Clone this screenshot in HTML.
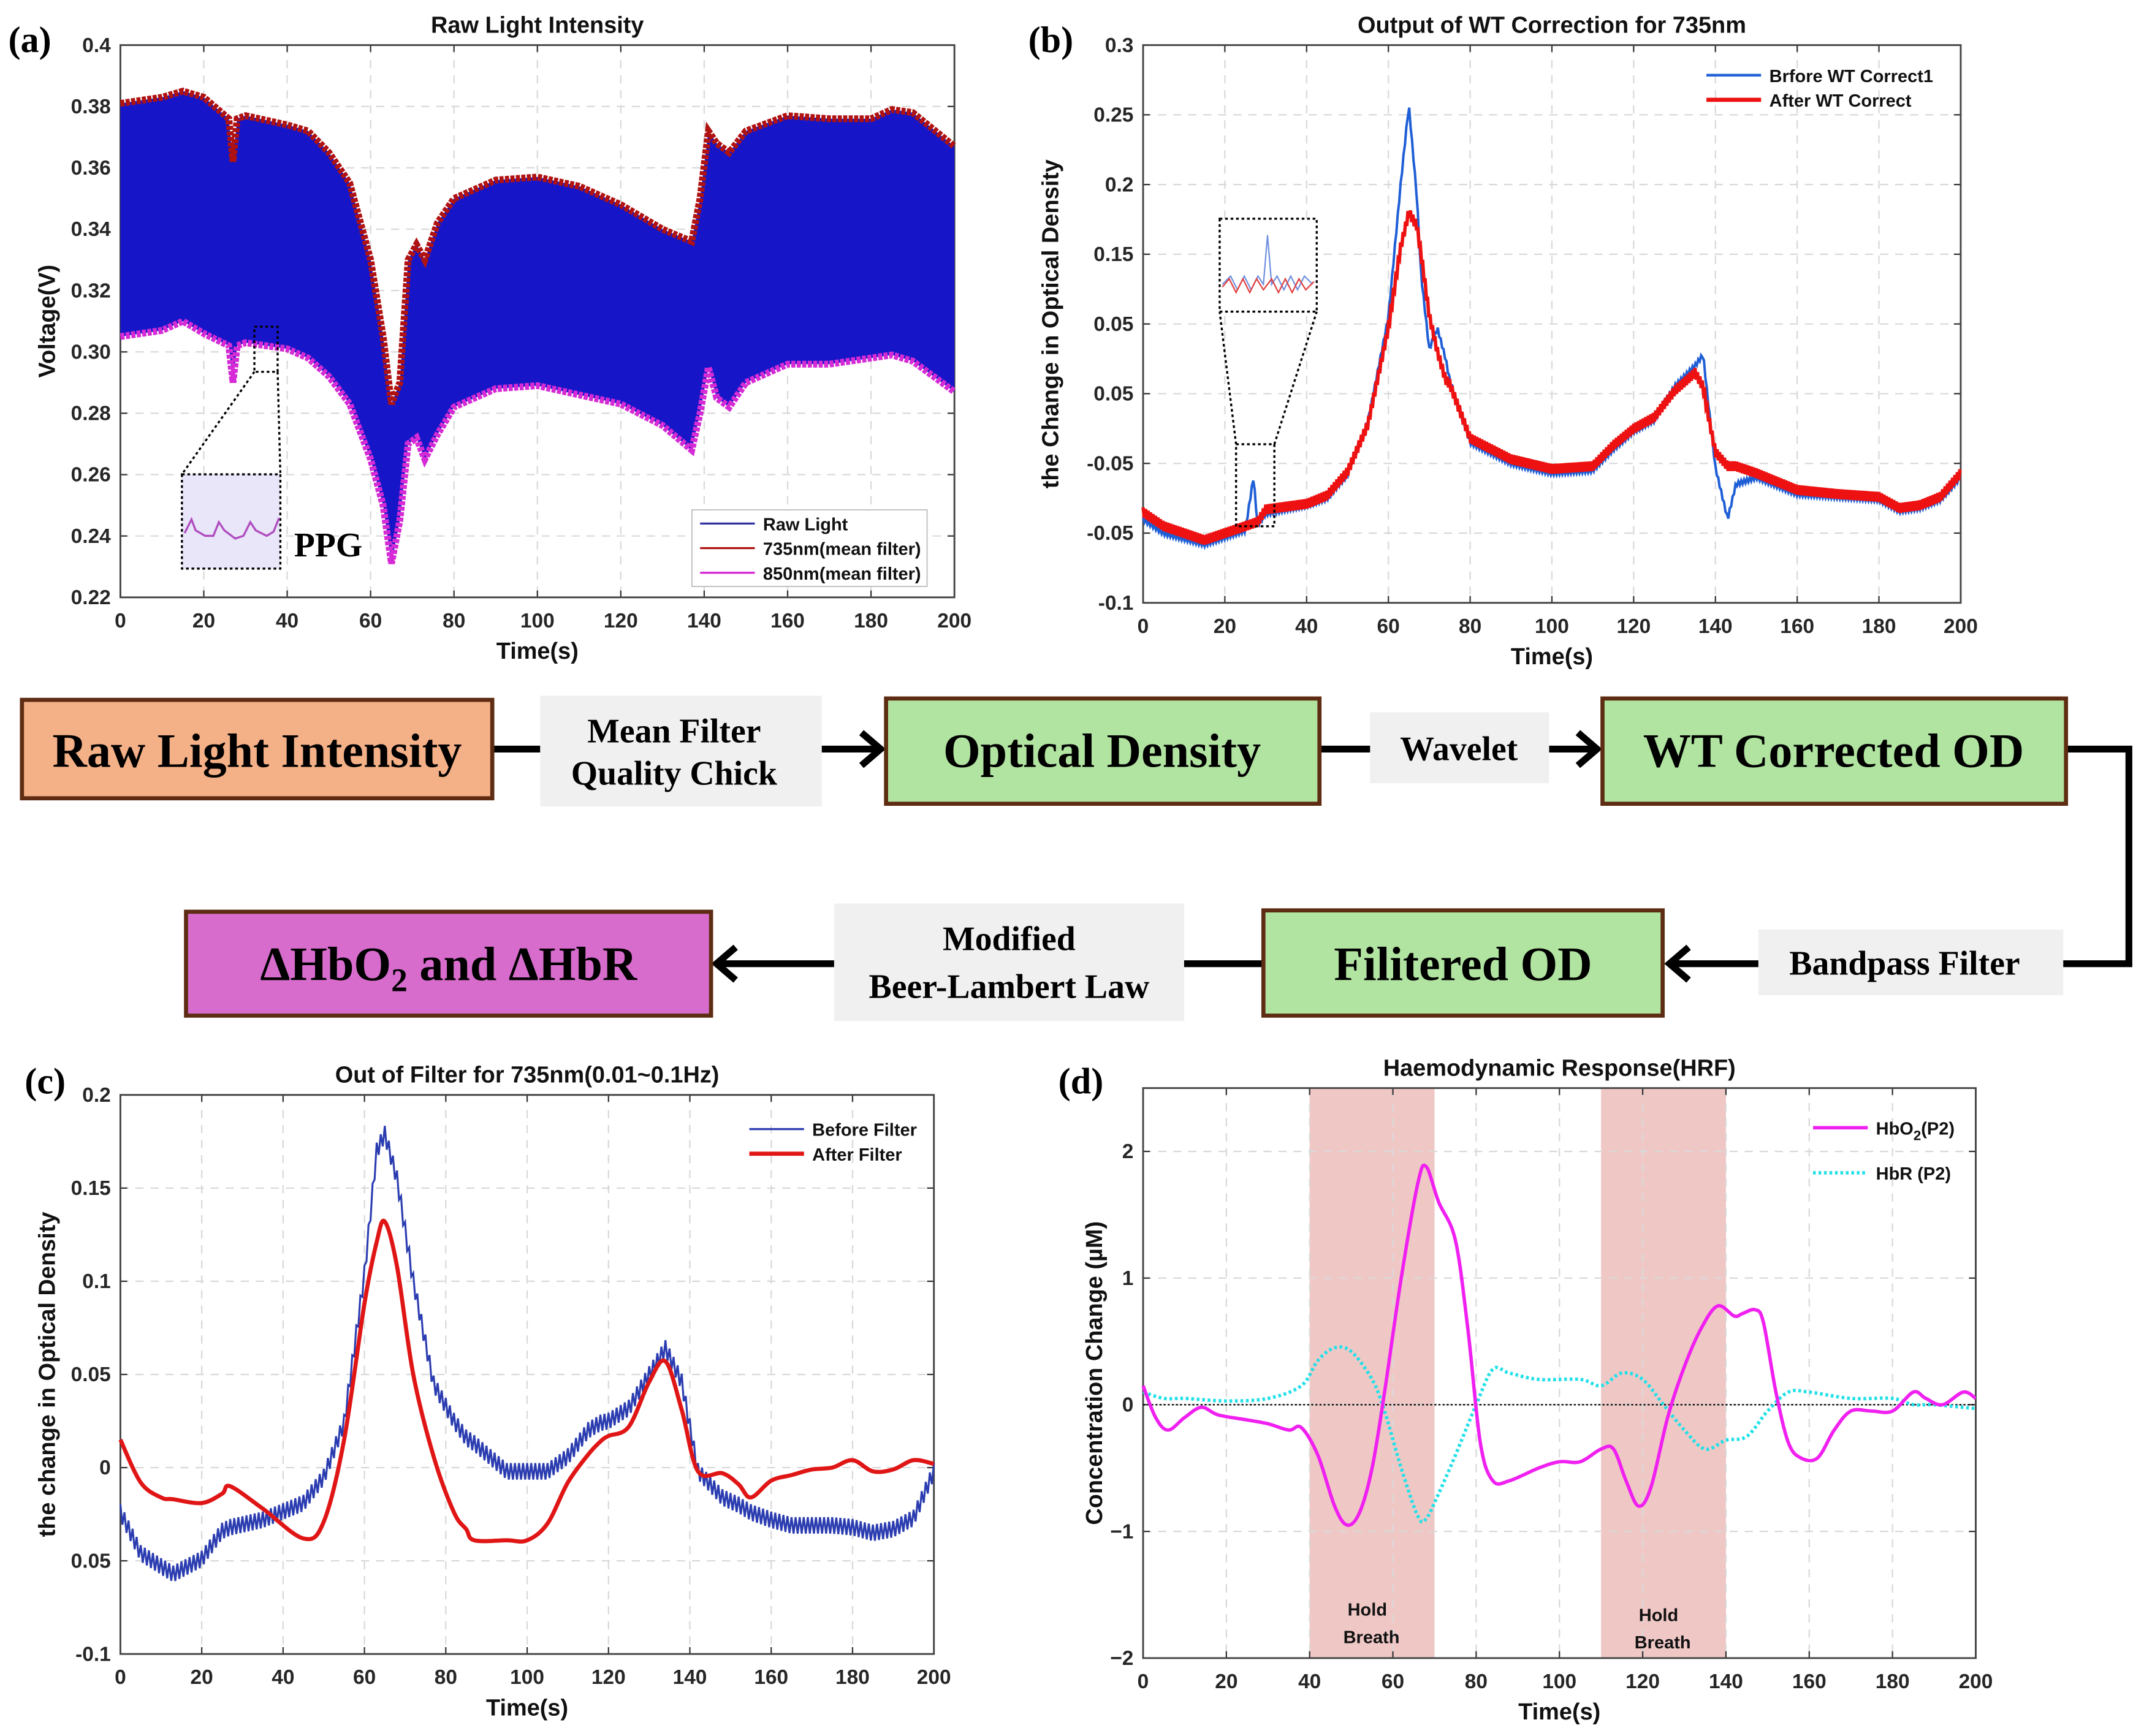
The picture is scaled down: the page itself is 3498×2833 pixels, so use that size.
<!DOCTYPE html>
<html><head><meta charset="utf-8">
<style>
html,body{margin:0;padding:0;background:#fff;}
svg{display:block;}
.tk{font-family:"Liberation Sans Narrow","Liberation Sans",sans-serif;font-weight:bold;font-size:15px;fill:#262626;}
.ttl{font-family:"Liberation Sans Narrow","Liberation Sans",sans-serif;font-weight:bold;font-size:17px;fill:#111;}
.lg{font-family:"Liberation Sans Narrow","Liberation Sans",sans-serif;font-weight:bold;font-size:13px;fill:#111;}
.pl{font-family:"Liberation Serif",serif;font-weight:bold;font-size:27px;fill:#000;}
.fb{font-family:"Liberation Serif",serif;font-weight:bold;font-size:35px;fill:#000;}
.fl{font-family:"Liberation Serif",serif;font-weight:bold;font-size:25px;fill:#000;}
</style></head>
<body>
<svg id="fig" xmlns="http://www.w3.org/2000/svg" width="3498" height="2833" viewBox="0 0 1568 1270">
<rect x="0" y="0" width="1568" height="1270" fill="#fff"/>
<g id="pa"></g>
<g id="pb"></g>
<g id="pc"></g>
<g id="pd"></g>
<g id="flow">
  <g fill="none" stroke="#000" stroke-width="5">
    <line x1="360" y1="548" x2="642" y2="548"/>
    <polyline points="630,536 644,548 630,560"/>
    <line x1="965" y1="548" x2="1166" y2="548"/>
    <polyline points="1154,536 1168,548 1154,560"/>
    <polyline points="1511,548 1557,548 1557,705 1223,705"/>
    <polyline points="1235,693 1221,705 1235,717"/>
    <line x1="923" y1="705" x2="526" y2="705"/>
    <polyline points="538,693 524,705 538,717"/>
  </g>
  <rect x="16" y="512" width="344" height="72" fill="#f4b087" stroke="#5e2c12" stroke-width="3"/>
  <text class="fb" x="188" y="561" text-anchor="middle">Raw Light Intensity</text>
  <rect x="395" y="509" width="206" height="81" fill="#f0f0f0"/>
  <text class="fl" x="493" y="543" text-anchor="middle">Mean Filter</text>
  <text class="fl" x="493" y="574" text-anchor="middle">Quality Chick</text>
  <rect x="648" y="511" width="317" height="77" fill="#b1e3a1" stroke="#5e2c12" stroke-width="3"/>
  <text class="fb" x="806" y="561" text-anchor="middle">Optical Density</text>
  <rect x="1002" y="521" width="131" height="52" fill="#f0f0f0"/>
  <text class="fl" x="1067" y="556" text-anchor="middle">Wavelet</text>
  <rect x="1172" y="511" width="339" height="77" fill="#b1e3a1" stroke="#5e2c12" stroke-width="3"/>
  <text class="fb" x="1341" y="561" text-anchor="middle">WT Corrected OD</text>
  <rect x="1286" y="680" width="223" height="48" fill="#f0f0f0"/>
  <text class="fl" x="1393" y="713" text-anchor="middle">Bandpass Filter</text>
  <rect x="924" y="666" width="292" height="77" fill="#b1e3a1" stroke="#5e2c12" stroke-width="3"/>
  <text class="fb" x="1070" y="717" text-anchor="middle">Filitered OD</text>
  <rect x="610" y="661" width="256" height="86" fill="#f0f0f0"/>
  <text class="fl" x="738" y="695" text-anchor="middle">Modified</text>
  <text class="fl" x="738" y="730" text-anchor="middle">Beer-Lambert Law</text>
  <rect x="136" y="667" width="384" height="76" fill="#d76ccd" stroke="#5e2c12" stroke-width="3"/>
  <text class="fb" x="328" y="717" text-anchor="middle">ΔHbO<tspan font-size="24" dy="8">2</tspan><tspan dy="-8"> and ΔHbR</tspan></text>
</g>
</svg>
<script>
// ---------- Panel (a) data ----------
var aTime = [0,10,15,20,26,27,28,30,40,45,50,55,60,63,65,67,69,71,73,76,80,90,100,110,120,130,137,139,141,143,146,150,160,170,180,185,190,200];
var a735 = [0.381,0.383,0.385,0.383,0.376,0.362,0.376,0.377,0.374,0.372,0.365,0.355,0.330,0.305,0.283,0.290,0.330,0.335,0.330,0.342,0.350,0.356,0.357,0.354,0.348,0.340,0.336,0.350,0.372,0.368,0.365,0.372,0.377,0.376,0.376,0.379,0.378,0.367];
var a850 = [0.305,0.307,0.310,0.306,0.302,0.290,0.302,0.303,0.301,0.298,0.292,0.283,0.265,0.250,0.231,0.245,0.270,0.272,0.265,0.273,0.282,0.288,0.289,0.286,0.283,0.276,0.268,0.280,0.295,0.285,0.282,0.290,0.296,0.296,0.298,0.299,0.297,0.287];
var aYTicks = [0.22,0.24,0.26,0.28,0.30,0.32,0.34,0.36,0.38,0.40];
var aYLabels = ["0.22","0.24","0.26","0.28","0.30","0.32","0.34","0.36","0.38","0.4"];
var xTicks200 = [0,20,40,60,80,100,120,140,160,180,200];
// ---------- Panel (b) data ----------
var bTime = [0,5,15,25,27,28,30,40,45,50,55,60,63,65,67,68,70,72,74,75,80,90,100,110,115,120,125,130,135,137,138,140,143,145,150,160,170,180,185,190,195,200];
var bAfter = [-0.035,-0.045,-0.055,-0.045,-0.043,-0.042,-0.033,-0.029,-0.023,-0.006,0.028,0.097,0.155,0.180,0.170,0.150,0.106,0.080,0.060,0.057,0.018,0.003,-0.004,-0.002,0.013,0.025,0.033,0.052,0.065,0.055,0.038,0.008,-0.002,-0.002,-0.007,-0.019,-0.022,-0.024,-0.032,-0.030,-0.024,-0.007];
var bBefore = [-0.040,-0.050,-0.058,-0.048,-0.010,-0.044,-0.036,-0.030,-0.025,-0.008,0.030,0.105,0.200,0.257,0.190,0.135,0.082,0.097,0.075,0.060,0.015,0.000,-0.007,-0.005,0.010,0.023,0.031,0.055,0.070,0.078,0.050,-0.003,-0.040,-0.015,-0.010,-0.022,-0.024,-0.026,-0.034,-0.032,-0.026,-0.010];
var bYTicks = [0.3,0.25,0.2,0.15,0.1,0.05,0,-0.05,-0.1];
var bYLabels = ["0.3","0.25","0.2","0.15","0.05","0.05","-0.05","-0.05","-0.1"];
// ---------- Panel (c) data ----------
var cTime = [0,5,10,13,20,25,27,35,45,50,55,60,63,65,68,72,77,82,85,87,95,100,105,110,115,118,120,125,130,134,138,142,148,152,155,160,165,170,175,180,185,190,195,200];
var cAfter = [0.015,-0.008,-0.016,-0.017,-0.019,-0.014,-0.010,-0.022,-0.038,-0.029,0.015,0.088,0.121,0.132,0.108,0.050,0.006,-0.024,-0.033,-0.039,-0.039,-0.039,-0.030,-0.008,0.007,0.014,0.017,0.022,0.046,0.057,0.031,-0.002,-0.003,-0.009,-0.016,-0.007,-0.004,-0.001,0.000,0.004,-0.002,-0.001,0.004,0.002];
var cBefore = [-0.024,-0.046,-0.053,-0.057,-0.049,-0.034,-0.032,-0.028,-0.019,-0.005,0.024,0.104,0.170,0.179,0.155,0.100,0.045,0.025,0.016,0.013,-0.002,-0.002,-0.002,0.006,0.020,0.024,0.025,0.032,0.050,0.064,0.046,-0.002,-0.016,-0.020,-0.024,-0.028,-0.031,-0.031,-0.031,-0.032,-0.035,-0.033,-0.027,-0.002];
var cYTicks = [0.2,0.15,0.1,0.05,0,-0.05,-0.1];
var cYLabels = ["0.2","0.15","0.1","0.05","0","0.05","-0.1"];
// ---------- Panel (d) data ----------
var dTimeO = [0,3,6,10,14,18,25,30,35,38,42,46,49,52,55,58,62,66,68,71,75,78,81,84,88,95,100,105,110,113,116,119,122,126,130,134,138,142,144,147,149,152,155,158,162,166,170,175,180,185,188,192,197,200];
var dHbO2 = [0.15,-0.1,-0.2,-0.1,-0.02,-0.08,-0.12,-0.15,-0.2,-0.18,-0.4,-0.8,-0.95,-0.85,-0.5,0.1,1.0,1.75,1.88,1.6,1.3,0.6,-0.3,-0.6,-0.6,-0.5,-0.45,-0.45,-0.35,-0.35,-0.6,-0.8,-0.65,-0.1,0.3,0.6,0.78,0.7,0.72,0.75,0.65,0.1,-0.3,-0.42,-0.42,-0.2,-0.05,-0.05,-0.05,0.1,0.05,0,0.1,0.05];
var dTimeR = [0,5,10,20,30,38,42,46,50,55,58,62,66,68,71,75,80,84,88,95,105,110,115,120,125,130,135,140,145,150,155,160,170,180,185,190,200];
var dHbR = [0.1,0.05,0.05,0.03,0.05,0.15,0.35,0.45,0.42,0.2,-0.05,-0.5,-0.88,-0.9,-0.7,-0.4,0,0.28,0.25,0.2,0.2,0.15,0.25,0.2,0,-0.2,-0.35,-0.28,-0.25,-0.05,0.1,0.1,0.05,0.05,0,0,-0.03];
var dYTicks = [-2,-1,0,1,2];
var dYLabels = ["\u22122","\u22121","0","1","2"];
var dShade = [[40,70],[110,140]];

var NS = "http://www.w3.org/2000/svg";
function mk(tag, parent, attrs){ var e=document.createElementNS(NS,tag); for(var k in attrs) e.setAttribute(k,attrs[k]); parent.appendChild(e); return e; }
function txt(parent, x, y, s, cls, anchor, extra){ var t=mk('text',parent,{x:x,y:y,'class':cls,'text-anchor':anchor||'middle'}); if(extra) for(var k in extra) t.setAttribute(k,extra[k]); t.textContent=s; return t; }

function makeAxes(g, c){
  c.sx = function(v){ return c.x0 + (v-c.xmin)/(c.xmax-c.xmin)*(c.x1-c.x0); };
  c.sy = function(v){ return c.y1 - (v-c.ymin)/(c.ymax-c.ymin)*(c.y1-c.y0); };
  var grid = mk('g', g, {stroke:'#d9d9d9','stroke-width':1,'stroke-dasharray':'6,5'});
  
  
  c.xticks.forEach(function(v){ mk('line',grid,{x1:c.sx(v),x2:c.sx(v),y1:c.y0,y2:c.y1}); });
  c.yticks.forEach(function(v){ mk('line',grid,{x1:c.x0,x2:c.x1,y1:c.sy(v),y2:c.sy(v)}); });
  var xa = mk('g', g, {});
  
  
  c.xticks.forEach(function(v){
    mk('line',xa,{x1:c.sx(v),x2:c.sx(v),y1:c.y1,y2:c.y1-5,stroke:'#333'});
    mk('line',xa,{x1:c.sx(v),x2:c.sx(v),y1:c.y0,y2:c.y0+5,stroke:'#333'});
    var t = txt(xa, c.sx(v), c.y1+22, String(v), 'tk');
    
    
  });
  var ya = mk('g', g, {});
  
  
  c.yticks.forEach(function(v,i){
    mk('line',ya,{x1:c.x0,x2:c.x0+5,y1:c.sy(v),y2:c.sy(v),stroke:'#333'});
    mk('line',ya,{x1:c.x1,x2:c.x1-5,y1:c.sy(v),y2:c.sy(v),stroke:'#333'});
    var t = txt(ya, c.x0-7, c.sy(v)+5, c.ylabels[i], 'tk', 'end');
    
    
  });
  var fr = mk('rect', g, {x:c.x0,y:c.y0,width:c.x1-c.x0,height:c.y1-c.y0,fill:'none',stroke:'#444','stroke-width':1.3});
  
  
  var tt = txt(g, (c.x0+c.x1)/2, c.y0-9, c.title, 'ttl');
  
  
  var xl = txt(g, (c.x0+c.x1)/2, c.y1+45, 'Time(s)', 'ttl');
  
  
  var yl = txt(g, c.ylx, (c.y0+c.y1)/2, c.ylabel, 'ttl', 'middle', {transform:'rotate(-90 '+c.ylx+' '+((c.y0+c.y1)/2)+')'});
  
  
  var pl = txt(g, c.plx, c.ply, c.letter, 'pl', 'start');
  
  
  return c;
}
function linePts(c, xs, ys){ return xs.map(function(x,i){ return c.sx(x).toFixed(2)+','+c.sy(ys[i]).toFixed(2); }).join(' '); }
function interp(xs, ys, t){ for(var i=1;i<xs.length;i++){ if(t<=xs[i]){ var f=(t-xs[i-1])/(xs[i]-xs[i-1]); return ys[i-1]+f*(ys[i]-ys[i-1]); } } return ys[ys.length-1]; }
function ripplePts(c, xs, ys, step, amp){
  var p=[], k=0;
  for(var t=xs[0]; t<=xs[xs.length-1]; t+=step, k++){
    p.push(c.sx(t).toFixed(2)+','+(c.sy(interp(xs,ys,t))+(k%2?amp:-amp)).toFixed(2));
  }
  return p.join(' ');
}
function smoothPath(c, xs, ys){
  var P = xs.map(function(x,i){ return [c.sx(x), c.sy(ys[i])]; });
  var d = 'M'+P[0][0]+','+P[0][1];
  for(var i=0;i<P.length-1;i++){
    var p0=P[Math.max(0,i-1)], p1=P[i], p2=P[i+1], p3=P[Math.min(P.length-1,i+2)];
    var c1=[p1[0]+(p2[0]-p0[0])/6, p1[1]+(p2[1]-p0[1])/6];
    var c2=[p2[0]-(p3[0]-p1[0])/6, p2[1]-(p3[1]-p1[1])/6];
    d += ' C'+c1[0].toFixed(2)+','+c1[1].toFixed(2)+' '+c2[0].toFixed(2)+','+c2[1].toFixed(2)+' '+p2[0].toFixed(2)+','+p2[1].toFixed(2);
  }
  return d;
}
function legendEntry(g, x, y, label, color, w, dash){
  var le = mk('g', g, {});
  
  
  var l = mk('line', le, {x1:x,x2:x+40,y1:y,y2:y,stroke:color,'stroke-width':w});
  if(dash) l.setAttribute('stroke-dasharray', dash);
  txt(le, x+46, y+5, label, 'lg', 'start');
  return le;
}

// ----- Panel A -----
var ga = document.getElementById('pa');
var ca = makeAxes(ga, {x0:88,x1:698,y0:33,y1:437,xmin:0,xmax:200,ymin:0.22,ymax:0.4,xticks:xTicks200,yticks:aYTicks,ylabels:aYLabels,title:'Raw Light Intensity',ylabel:'Voltage(V)',ylx:40,letter:'(a)',plx:6,ply:38});
var rawPoly = mk('polygon', ga, {points: linePts(ca,aTime,a735)+' '+linePts(ca,aTime.slice().reverse(),a850.slice().reverse()), fill:'#1616c8'});


var l735 = mk('polyline', ga, {points: linePts(ca,aTime,a735), fill:'none', stroke:'#b01212','stroke-width':5,'stroke-dasharray':'3,1'});


var l850 = mk('polyline', ga, {points: linePts(ca,aTime,a850), fill:'none', stroke:'#d52ad5','stroke-width':5,'stroke-dasharray':'3,1'});


var insA = mk('g', ga, {});


mk('rect', insA, {x:186,y:239,width:17,height:33,fill:'none',stroke:'#000','stroke-width':1.5,'stroke-dasharray':'2,2'});
mk('line', insA, {x1:186,y1:272,x2:133,y2:347,stroke:'#000','stroke-width':1.5,'stroke-dasharray':'2,2'});
mk('line', insA, {x1:203,y1:272,x2:205,y2:347,stroke:'#000','stroke-width':1.5,'stroke-dasharray':'2,2'});
mk('rect', insA, {x:133,y:347,width:72,height:69,fill:'#e8e6f8',stroke:'#000','stroke-width':1.5,'stroke-dasharray':'2,2'});
mk('polyline', insA, {points:'135,390 140,380 143,388 150,392 156,392 160,382 164,388 172,394 178,392 183,382 187,388 195,392 200,389 204,379',fill:'none',stroke:'#b04cc0','stroke-width':1.5});
txt(ga, 215, 407, 'PPG', 'fl', 'start');
mk('rect', ga, {x:506,y:373,width:172,height:56,fill:'#fff',stroke:'#bbb','stroke-width':0.8});
legendEntry(ga, 512, 383, 'Raw Light', '#3030a0', 1.5);
legendEntry(ga, 512, 401, '735nm(mean filter)', '#b01212', 1.5);
legendEntry(ga, 512, 419, '850nm(mean filter)', '#d52ad5', 1.5);

// ----- Panel B -----
var gb = document.getElementById('pb');
var cb = makeAxes(gb, {x0:836,x1:1434,y0:33,y1:441,xmin:0,xmax:200,ymin:-0.1,ymax:0.3,xticks:xTicks200,yticks:bYTicks,ylabels:bYLabels,title:'Output of WT Correction for 735nm',ylabel:'the Change in Optical Density',ylx:774,letter:'(b)',plx:752,ply:38});
var bBl = mk('polyline', gb, {points: ripplePts(cb,bTime,bBefore,0.35,1.5), fill:'none', stroke:'#1f5fd6','stroke-width':1.8});


var bRd = mk('polyline', gb, {points: ripplePts(cb,bTime,bAfter,0.3,3.5), fill:'none', stroke:'#ee1111','stroke-width':2.5});


var insB = mk('g', gb, {});


mk('rect', insB, {x:904,y:325,width:28,height:60,fill:'none',stroke:'#000','stroke-width':1.5,'stroke-dasharray':'2,2'});
mk('line', insB, {x1:904,y1:325,x2:892,y2:228,stroke:'#000','stroke-width':1.5,'stroke-dasharray':'2,2'});
mk('line', insB, {x1:932,y1:325,x2:963,y2:228,stroke:'#000','stroke-width':1.5,'stroke-dasharray':'2,2'});
mk('rect', insB, {x:892,y:160,width:71,height:68,fill:'#fff',stroke:'#000','stroke-width':1.5,'stroke-dasharray':'2,2'});
mk('polyline', insB, {points:'894,208 900,202 905,212 910,202 915,212 920,202 924,208 927,172 930,208 934,202 939,212 944,202 949,212 954,202 960,208',fill:'none',stroke:'#7090e0','stroke-width':1});
mk('polyline', insB, {points:'894,210 899,204 904,214 909,204 914,214 919,204 924,212 930,204 935,214 940,204 945,214 950,204 955,212 961,206',fill:'none',stroke:'#e04040','stroke-width':1});
legendEntry(gb, 1248, 55, 'Brfore WT Correct1', '#1f5fd6', 2);
legendEntry(gb, 1248, 73, 'After WT Correct', '#ee1111', 3);

// ----- Panel C -----
var gc = document.getElementById('pc');
var cc = makeAxes(gc, {x0:88,x1:683,y0:801,y1:1210,xmin:0,xmax:200,ymin:-0.1,ymax:0.2,xticks:xTicks200,yticks:cYTicks,ylabels:cYLabels,title:'Out of Filter for 735nm(0.01~0.1Hz)',ylabel:'the change in Optical Density',ylx:40,letter:'(c)',plx:18,ply:800});
var cBl = mk('polyline', gc, {points: ripplePts(cc,cTime,cBefore,0.5,6), fill:'none', stroke:'#2a3cb0','stroke-width':1.4});


var cRd = mk('path', gc, {d: smoothPath(cc,cTime,cAfter), fill:'none', stroke:'#e01515','stroke-width':3});


legendEntry(gc, 548, 826, 'Before Filter', '#2a3cb0', 1.5);
legendEntry(gc, 548, 844, 'After Filter', '#e01515', 3);

// ----- Panel D -----
var gd = document.getElementById('pd');
var cd = {x0:836,x1:1445,y0:796,y1:1213,xmin:0,xmax:200,ymin:-2,ymax:2.5};
var shG = mk('g', gd, {});


cd.sx = function(v){ return cd.x0 + (v-cd.xmin)/(cd.xmax-cd.xmin)*(cd.x1-cd.x0); };
dShade.forEach(function(s){ mk('rect', shG, {x:cd.sx(s[0]), y:796, width:cd.sx(s[1])-cd.sx(s[0]), height:417, fill:'#efc8c6'}); });
cd = makeAxes(gd, {x0:836,x1:1445,y0:796,y1:1213,xmin:0,xmax:200,ymin:-2,ymax:2.5,xticks:xTicks200,yticks:dYTicks,ylabels:dYLabels,title:'Haemodynamic Response(HRF)',ylabel:'Concentration Change (\u00b5M)',ylx:806,letter:'(d)',plx:774,ply:800});
mk('line', gd, {x1:836,x2:1445,y1:cd.sy(0),y2:cd.sy(0),stroke:'#000','stroke-width':1,'stroke-dasharray':'1.5,1.5'});
var dR = mk('path', gd, {d: smoothPath(cd,dTimeR,dHbR), fill:'none', stroke:'#22e0e8','stroke-width':2.5,'stroke-dasharray':'2,2'});


var dO = mk('path', gd, {d: smoothPath(cd,dTimeO,dHbO2), fill:'none', stroke:'#f020f0','stroke-width':2.5});


txt(gd, 1000, 1182, 'Hold', 'lg', 'middle', {'font-size':15});
txt(gd, 1003, 1202, 'Breath', 'lg', 'middle', {'font-size':15});
txt(gd, 1213, 1186, 'Hold', 'lg', 'middle', {'font-size':15});
txt(gd, 1216, 1206, 'Breath', 'lg', 'middle', {'font-size':15});
var le1 = legendEntry(gd, 1326, 825, 'HbO', '#f020f0', 2.5);
var le2 = legendEntry(gd, 1326, 858, 'HbR  (P2)', '#22e0e8', 2.5, '2,2');
var tO = le1.querySelector('text'); tO.textContent='HbO';
var sub = mk('tspan', tO, {'font-size':10, dy:4}); sub.textContent='2';
var sub2 = mk('tspan', tO, {dy:-4}); sub2.textContent='(P2)';
</script>
</body></html>
